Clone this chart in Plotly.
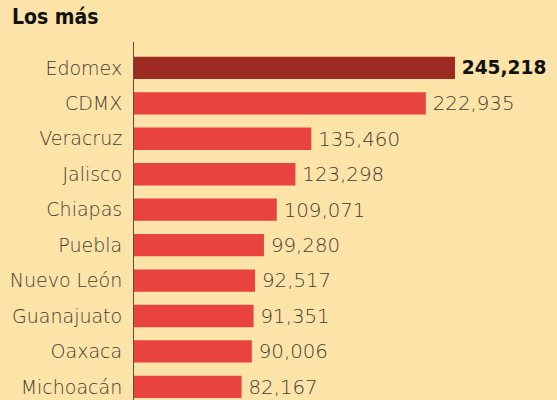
import plotly.graph_objects as go

estados = ["Edomex", "CDMX", "Veracruz", "Jalisco", "Chiapas", "Puebla",
           "Nuevo León", "Guanajuato", "Oaxaca", "Michoacán"]
valores = [245218, 222935, 135460, 123298, 109071, 99280, 92517, 91351, 90006, 82167]

BG = "#FCE3A8"
bar_colors = ["#9E2A24"] + ["#E8433E"] * (len(valores) - 1)
text_colors = ["#111111"] + ["#433C33"] * (len(valores) - 1)
text_sizes = [20] + [23] * (len(valores) - 1)
textos = ["\u2009" + (("<b>%s</b>" if i == 0 else "%s") % f"{v:,}") for i, v in enumerate(valores)]

fig = go.Figure(go.Bar(
    x=valores, y=estados, orientation="h",
    marker=dict(color=bar_colors, line=dict(width=0)),
    text=textos, textposition="outside", cliponaxis=False,
    textfont=dict(family="DejaVu Sans", size=text_sizes, color=text_colors, weight=200),
    width=0.63,
))

fig.update_layout(
    width=557, height=400,
    margin=dict(l=134, r=0, t=42, b=0),
    paper_bgcolor=BG, plot_bgcolor=BG,
    showlegend=False,
    title=dict(text="<b>Los más</b>", x=12/557, xanchor="left", xref="container",
               y=1 - 9/400, yanchor="top", yref="container",
               font=dict(family="DejaVu Sans Condensed, Liberation Sans Narrow, DejaVu Sans",
                         size=21, color="#111111")),
    xaxis=dict(range=[0, 323150], visible=False, showgrid=False, zeroline=False),
    yaxis=dict(range=[9.37, -0.73], showgrid=False, zeroline=False,
               showline=True, linecolor="#5A5040", linewidth=1,
               ticks="", ticklabelstandoff=7,
               tickfont=dict(family="DejaVu Sans", size=19, color="#433C33", weight=200)),
    bargap=0.38,
)

fig.write_html(
    "out.html",
    config={"displayModeBar": False},
    post_script="document.body.style.margin='0';document.body.style.background='%s';" % BG,
)
